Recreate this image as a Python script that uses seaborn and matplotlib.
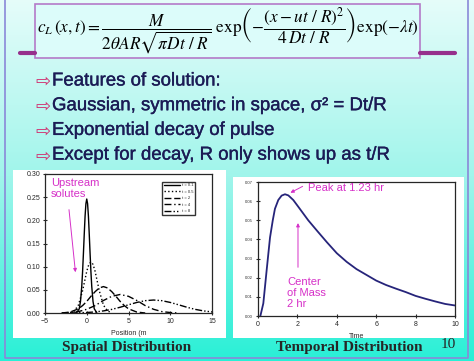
import numpy as np
import matplotlib
matplotlib.use('Agg')
import matplotlib.pyplot as plt
import matplotlib.patheffects as pe
from matplotlib.patches import Rectangle
from matplotlib.lines import Line2D
import seaborn as sns

# Spatial distribution: concentration vs position for several times
t_labels = ['t = 0.1', 't = 0.5', 't = 2', 't = 4', 't = 8']
x_t01 = [-1.2, -0.9, -0.75, -0.6, -0.5, -0.4, -0.3, -0.2, -0.1, 0.0, 0.1, 0.2, 0.3, 0.4, 0.5, 0.6, 0.75, 0.9, 1.2]
c_t01 = [0.001, 0.009, 0.025, 0.057, 0.089, 0.128, 0.170, 0.209, 0.236, 0.246, 0.236, 0.209, 0.170, 0.128, 0.089, 0.057, 0.025, 0.009, 0.001]
x_t05 = [-2.0, -1.5, -1.0, -0.5, -0.25, 0.0, 0.25, 0.5, 0.75, 1.0, 1.25, 1.5, 2.0, 2.5, 3.0]
c_t05 = [0.001, 0.004, 0.017, 0.048, 0.069, 0.090, 0.105, 0.110, 0.105, 0.090, 0.069, 0.048, 0.017, 0.004, 0.001]
x_t2 = [-3, -2, -1, -0.5, 0, 0.5, 1, 1.5, 2, 2.5, 3, 3.5, 4, 4.5, 5, 6, 7]
c_t2 = [0.0, 0.002, 0.009, 0.016, 0.025, 0.036, 0.046, 0.054, 0.057, 0.054, 0.046, 0.036, 0.025, 0.016, 0.009, 0.002, 0.0]
x_t4 = [-3, -2, -1, 0, 1, 2, 3, 4, 5, 6, 7, 8, 9, 10, 11]
c_t4 = [0.0, 0.001, 0.003, 0.008, 0.016, 0.027, 0.036, 0.040, 0.036, 0.027, 0.016, 0.008, 0.003, 0.001, 0.0]
x_t8 = [-2, -1, 0, 1, 2, 3, 4, 5, 6, 7, 8, 9, 10, 11, 12, 13, 14, 15]
c_t8 = [0.0002, 0.0005, 0.0011, 0.0023, 0.0045, 0.0078, 0.0124, 0.0177, 0.0228, 0.0266, 0.028, 0.0266, 0.0228, 0.0177, 0.0124, 0.0078, 0.0045, 0.0023]

# Temporal distribution: concentration vs time
time_hr = [0.12, 0.27, 0.44, 0.61, 0.75, 0.86, 1.03, 1.2, 1.37, 1.54, 1.79, 2.05, 2.3, 2.55, 3.0, 3.5, 4.0,
           4.5, 5.0, 5.5, 6.0, 6.5, 7.0, 7.5, 8.0, 8.5, 9.0, 9.5, 10.0]
conc_t = [0.0, 0.0066, 0.024, 0.041, 0.050, 0.056, 0.0606, 0.0629, 0.0636, 0.063, 0.0606, 0.057, 0.0535, 0.050,
          0.0445, 0.0385, 0.0328, 0.0283, 0.0245, 0.0215, 0.0185, 0.0162, 0.0143, 0.0125, 0.0105, 0.0090, 0.0076,
          0.0063, 0.0055]

bullets = ['Features of solution:',
           'Gaussian, symmetric in space, σ² = Dt/R',
           'Exponential decay of pulse',
           'Except for decay, R only shows up as t/R']

sns.set_style('ticks')
plt.rcParams['font.family'] = ['Liberation Sans', 'DejaVu Sans']
plt.rcParams['mathtext.fontset'] = 'stix'

W, H = 474, 361
fig = plt.figure(figsize=(W / 100, H / 100), dpi=100)


def fx(px):
    return px / W


def fy(py):
    return 1 - py / H


# slide background
bg = fig.add_axes([0, 0, 1, 1], zorder=-10)
grad = np.linspace(0, 1, 256)[:, None]
top = np.array([0.90, 0.99, 0.98])
mid = np.array([0.62, 0.96, 0.92])
bot = np.array([0.16, 0.94, 0.84])
cols = np.where(grad[..., None] < 0.5, top + (mid - top) * (grad[..., None] * 2), mid + (bot - mid) * (grad[..., None] * 2 - 1))
bg.imshow(np.repeat(cols, 4, axis=1), aspect='auto', extent=[0, 1, 0, 1])
bg.set_axis_off()

fig.add_artist(Line2D([fx(5), fx(5), fx(468), fx(468)], [1, fy(358), fy(358), 1], color='#8a88d8', lw=1.2, zorder=-5))

# equation box
fig.add_artist(Rectangle((fx(35), fy(58)), fx(385), 54 / H, facecolor='#dcfcfa', edgecolor='#b47ac8', lw=1.2, zorder=-5))
fig.add_artist(Line2D([fx(20), fx(35)], [fy(53), fy(53)], color='#96308c', lw=3, zorder=-5))
fig.add_artist(Line2D([fx(420), fx(455)], [fy(53), fy(53)], color='#96308c', lw=3, zorder=-5))
eq = (r'$c_L\,(x,t)=\dfrac{M}{2\theta AR\sqrt{\pi Dt\ /\ R}}\ \mathrm{exp}\left(-\dfrac{(x-ut\ /\ R)^2}{4\,Dt\ /\ R}\right)'
      r'\mathrm{exp}\left(-\lambda t\right)$')
fig.text(fx(228), fy(31), eq, ha='center', va='center', fontsize=12.4, color='black')

# bullets
for i, line in enumerate(bullets):
    yy = fy(81 + 24.7 * i)
    fig.text(fx(35), yy - 0.003, '⇨', family='DejaVu Sans', fontsize=13, color='#d0306f', ha='left', va='center')
    fig.text(fx(52), yy, line, fontsize=13.4, color='#1b1b55', ha='left', va='center',
             path_effects=[pe.withStroke(linewidth=0.25, foreground='#1b1b55')])

# white panels
fig.add_artist(Rectangle((fx(13), fy(338)), fx(213), 168 / H, facecolor='white', edgecolor='none', zorder=-5))
fig.add_artist(Rectangle((fx(233), fy(338)), fx(231), 161 / H, facecolor='white', edgecolor='none', zorder=-5))

magenta = '#d630c8'

# spatial plot
ax1 = fig.add_axes([fx(45), fy(313), fx(167), 139 / H])
ax1.patch.set_alpha(0)
styles = ['-', ':', (0, (5, 2)), (0, (5, 2, 1, 2)), (0, (5, 1.5, 1, 1.5, 1, 1.5))]
series = [(x_t01, c_t01), (x_t05, c_t05), (x_t2, c_t2), (x_t4, c_t4), (x_t8, c_t8)]
for (xs, cs), ls, lab in zip(series, styles, t_labels):
    sns.lineplot(x=xs, y=cs, ax=ax1, color='black', linestyle=ls, lw=1.0, label=lab)
ax1.set_xlim(-5, 15)
ax1.set_ylim(0, 0.30)
ax1.set_xticks([-5, 0, 5, 10, 15])
ax1.set_yticks([0, 0.05, 0.10, 0.15, 0.20, 0.25, 0.30])
ax1.set_yticklabels(['0.00', '0.05', '0.10', '0.15', '0.20', '0.25', '0.30'])
ax1.tick_params(labelsize=5, length=2.5, width=0.8, direction='inout', pad=2)
ax1.set_xlabel('Position (m', fontsize=5, labelpad=4)
ax1.set_ylabel('')
for s in ax1.spines.values():
    s.set_linewidth(0.9)
ax1.legend(loc='upper right', bbox_to_anchor=(0.91, 0.96), fontsize=3, frameon=True, fancybox=False,
           edgecolor='black', handlelength=4, borderpad=0.4, labelspacing=0.6, handletextpad=0.3)
ax1.text(-4.3, 0.292, 'Upstream\nsolutes', color=magenta, fontsize=8, ha='left', va='top', linespacing=1.2)
ax1.annotate('', xy=(-1.32, 0.082), xytext=(-2.16, 0.229),
             arrowprops=dict(arrowstyle='-|>', color=magenta, lw=0.7, mutation_scale=5))

# temporal plot
ax2 = fig.add_axes([fx(258), fy(316), fx(197), 134 / H])
ax2.patch.set_alpha(0)
sns.lineplot(x=time_hr, y=conc_t, ax=ax2, color='#26247a', lw=1.3)
ax2.set_xlim(0, 10)
ax2.set_ylim(0, 0.07)
ax2.set_xticks([0, 2, 4, 6, 8, 10])
ax2.set_yticks([0, 0.01, 0.02, 0.03, 0.04, 0.05, 0.06, 0.07])
ax2.set_yticklabels(['0.00', '0.01', '0.02', '0.03', '0.04', '0.05', '0.06', '0.07'])
ax2.tick_params(axis='x', labelsize=5, length=3, width=0.8, direction='inout', pad=2)
ax2.tick_params(axis='y', labelsize=3, length=3, width=0.8, direction='inout', pad=2)
ax2.set_xlabel('Time', fontsize=5, labelpad=4)
for s in ax2.spines.values():
    s.set_linewidth(0.9)
ax2.text(2.54, 0.0669, 'Peak at 1.23 hr', color=magenta, fontsize=8, ha='left', va='center')
ax2.annotate('', xy=(1.52, 0.0637), xytext=(2.39, 0.0684),
             arrowprops=dict(arrowstyle='-|>', color=magenta, lw=0.7, mutation_scale=5))
ax2.text(1.47, 0.0205, 'Center\nof Mass\n2 hr', color=magenta, fontsize=8, ha='left', va='top', linespacing=1.15)
ax2.annotate('', xy=(2.03, 0.050), xytext=(2.03, 0.024),
             arrowprops=dict(arrowstyle='-|>', color=magenta, lw=0.7, mutation_scale=5))

# captions
fig.text(fx(127), fy(347), 'Spatial Distribution', family='Liberation Serif', weight='bold', fontsize=11, ha='center', va='center')
fig.text(fx(349), fy(347), 'Temporal Distribution', family='Liberation Serif', weight='bold', fontsize=11, ha='center', va='center')
fig.text(fx(448), fy(345), '10', family='Liberation Serif', fontsize=11, ha='center', va='center')

fig.savefig('out.png', dpi=100)
